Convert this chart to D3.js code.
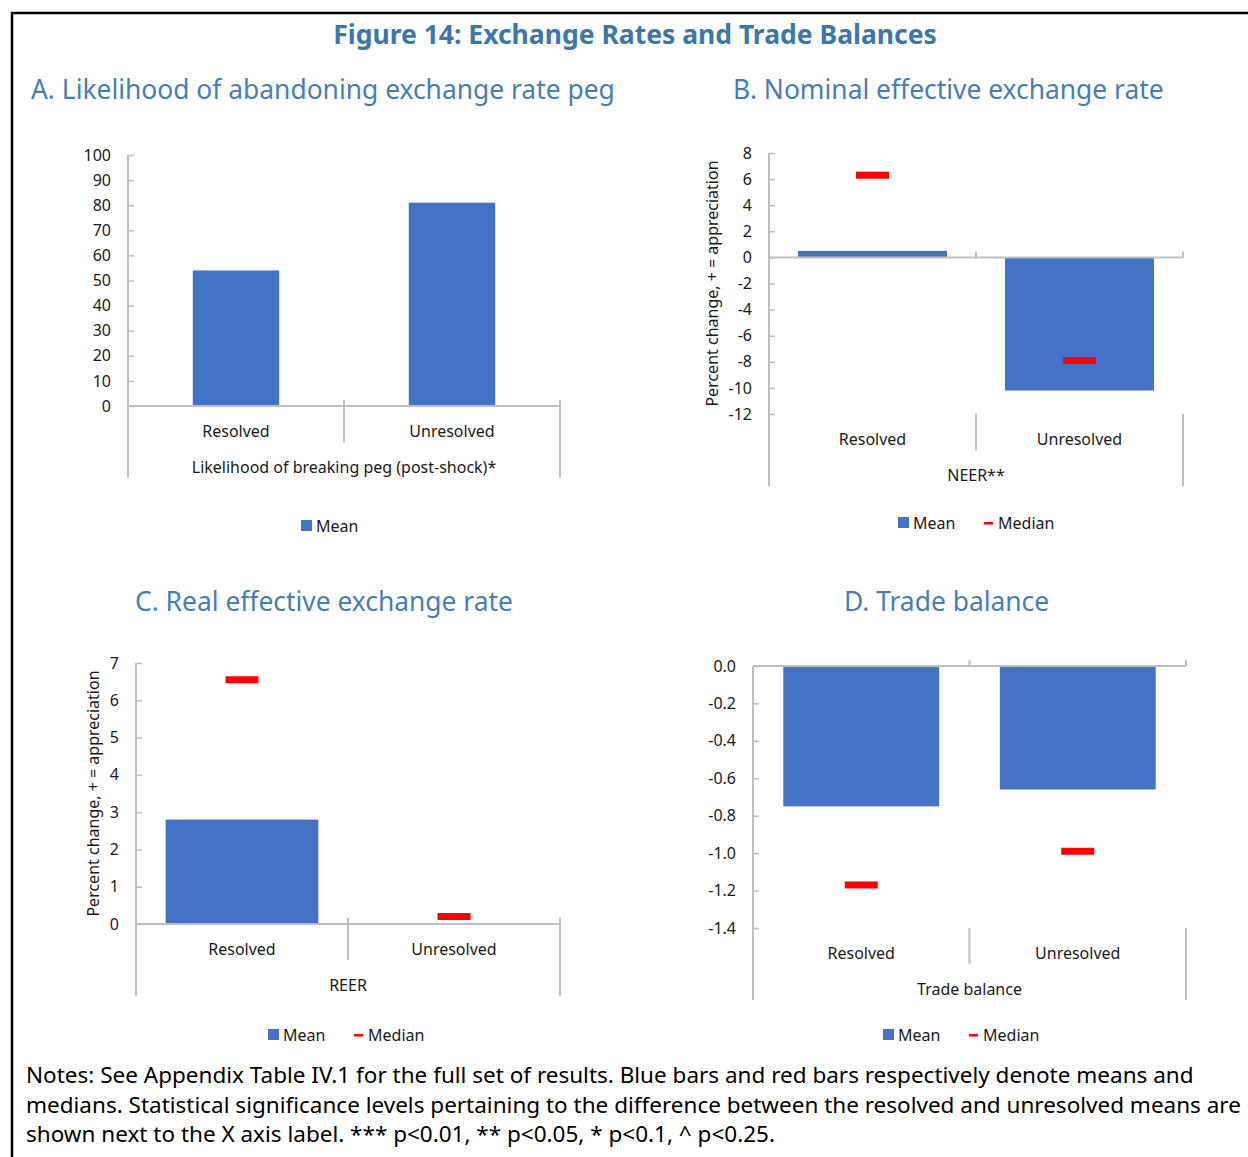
<!DOCTYPE html>
<html>
<head>
<meta charset="utf-8">
<script src="https://cdn.jsdelivr.net/npm/d3@7"></script>
<style>
  body { margin: 0; background: #fff; }
  svg { display: block; font-family: "Noto Sans", "Open Sans", sans-serif; }
</style>
</head>
<body>
<script>
// data
var categories = ["Resolved", "Unresolved"];

var pegMean = [54, 81];
var neerMean = [0.5, -10.2],
    neerMedian = [6.3, -7.9];
var reerMean = [2.8, 0],
    reerMedian = [6.55, 0.2];
var tradeMean = [-0.75, -0.66],
    tradeMedian = [-1.17, -0.99];

var ticksA = [0, 10, 20, 30, 40, 50, 60, 70, 80, 90, 100],
    ticksB = [8, 6, 4, 2, 0, -2, -4, -6, -8, -10, -12],
    ticksC = [0, 1, 2, 3, 4, 5, 6, 7],
    ticksD = [0, -0.2, -0.4, -0.6, -0.8, -1.0, -1.2, -1.4];

var notes = [
  "Notes: See Appendix Table IV.1 for the full set of results. Blue bars and red bars respectively denote means and",
  "medians. Statistical significance levels pertaining to the difference between the resolved and unresolved means are",
  "shown next to the X axis label. *** p<0.01, ** p<0.05, * p<0.1, ^ p<0.25."
];

var blue = "#4472c4",
    red = "#ff0000",
    axisGrey = "#bfbfbf",
    titleBlue = "#4a7eb0";

var svg = d3.select("body").append("svg")
  .attr("width", 1248)
  .attr("height", 1157);

// frame
svg.append("path")
  .attr("d", "M12,1157 V13 H1248")
  .attr("fill", "none")
  .attr("stroke", "#000")
  .attr("stroke-width", 2.5);

svg.append("text")
  .attr("x", 635).attr("y", 44)
  .attr("text-anchor", "middle")
  .attr("font-size", 26.5)
  .attr("font-weight", "bold")
  .attr("fill", "#3e76a8")
  .text("Figure 14: Exchange Rates and Trade Balances");

var panels = [
  {title: "A. Likelihood of abandoning exchange rate peg", tx: 31, ty: 99,
   left: 128, right: 560, top: 155, bottom: 406, domain: [0, 100], ticks: ticksA,
   fmt: String, mean: pegMean, median: null, barFrac: 0.4,
   xLabel: "Likelihood of breaking peg (post-shock)*", catBase: 406, yTitle: null,
   legendX: 301, legendY: 526},
  {title: "B. Nominal effective exchange rate", tx: 733, ty: 99,
   left: 769, right: 1183, top: 153, bottom: 414, domain: [-12, 8], ticks: ticksB,
   fmt: String, mean: neerMean, median: neerMedian, barFrac: 0.72,
   xLabel: "NEER**", catBase: 414, yTitle: 712,
   legendX: 898, legendY: 523},
  {title: "C. Real effective exchange rate", tx: 135, ty: 611,
   left: 136, right: 560, top: 663, bottom: 924, domain: [0, 7], ticks: ticksC,
   fmt: String, mean: reerMean, median: reerMedian, barFrac: 0.72,
   xLabel: "REER", catBase: 924, yTitle: 93,
   legendX: 268, legendY: 1035},
  {title: "D. Trade balance", tx: 844, ty: 611,
   left: 753, right: 1186, top: 666, bottom: 928, domain: [-1.4, 0], ticks: ticksD,
   fmt: function(d) { return d.toFixed(1).replace("-0.0", "0.0"); },
   mean: tradeMean, median: tradeMedian, barFrac: 0.72,
   xLabel: "Trade balance", catBase: 928, yTitle: null,
   legendX: 883, legendY: 1035}
];

panels.forEach(function(p) {
  var g = svg.append("g");

  g.append("text")
    .attr("x", p.tx).attr("y", p.ty)
    .attr("font-size", 26.4)
    .attr("fill", titleBlue)
    .text(p.title);

  var y = d3.scaleLinear().domain(p.domain).range([p.bottom, p.top]);
  var x = d3.scaleBand().domain(categories).range([p.left, p.right]);
  var bw = x.bandwidth();
  var y0 = y(0);

  // bars
  g.selectAll(".bar")
    .data(p.mean)
    .enter().append("rect")
    .attr("x", function(d, i) { return x(categories[i]) + bw * (1 - p.barFrac) / 2; })
    .attr("width", bw * p.barFrac)
    .attr("y", function(d) { return Math.min(y(d), y0); })
    .attr("height", function(d) { return Math.abs(y(d) - y0); })
    .attr("fill", blue);

  // y axis
  var ax = g.append("g")
    .attr("transform", "translate(" + p.left + ",0)")
    .call(d3.axisLeft(y).tickValues(p.ticks).tickFormat(p.fmt)
      .tickSizeInner(-6).tickSizeOuter(0).tickPadding(17));
  ax.select(".domain").remove();
  ax.selectAll("line").attr("stroke", axisGrey).attr("stroke-width", 1.5);
  ax.selectAll("text")
    .attr("font-size", 16)
    .attr("fill", "#1a1a1a")
    .attr("font-family", "Noto Sans, sans-serif");

  var base = p.catBase, row1 = base + 36, row2 = base + 72;
  var mid = x(categories[1]);

  // y axis line running down into the category label block
  g.append("line")
    .attr("x1", p.left).attr("x2", p.left)
    .attr("y1", p.top).attr("y2", row2)
    .attr("stroke", axisGrey).attr("stroke-width", 2);

  // category axis at zero
  g.append("line")
    .attr("x1", p.left).attr("x2", p.right)
    .attr("y1", y0).attr("y2", y0)
    .attr("stroke", axisGrey).attr("stroke-width", 2);
  [mid, p.right].forEach(function(xx) {
    g.append("line")
      .attr("x1", xx).attr("x2", xx)
      .attr("y1", y0 - 6).attr("y2", y0)
      .attr("stroke", axisGrey).attr("stroke-width", 2);
  });

  // multi-level label brackets
  g.append("line")
    .attr("x1", mid).attr("x2", mid)
    .attr("y1", base).attr("y2", row1)
    .attr("stroke", axisGrey).attr("stroke-width", 2);
  g.append("line")
    .attr("x1", p.right).attr("x2", p.right)
    .attr("y1", base).attr("y2", row2)
    .attr("stroke", axisGrey).attr("stroke-width", 2);

  g.selectAll(".cat")
    .data(categories)
    .enter().append("text")
    .attr("x", function(d) { return x(d) + bw / 2; })
    .attr("y", base + 31)
    .attr("text-anchor", "middle")
    .attr("font-size", 16)
    .attr("fill", "#1a1a1a")
    .text(function(d) { return d; });

  g.append("text")
    .attr("x", (p.left + p.right) / 2)
    .attr("y", base + 67)
    .attr("text-anchor", "middle")
    .attr("font-size", 16)
    .attr("fill", "#1a1a1a")
    .text(p.xLabel);

  // medians
  if (p.median) {
    g.selectAll(".med")
      .data(p.median)
      .enter().append("rect")
      .attr("x", function(d, i) { return x(categories[i]) + bw / 2 - 16.5; })
      .attr("width", 33)
      .attr("y", function(d) { return y(d) - 3.5; })
      .attr("height", 7)
      .attr("fill", red);
  }

  if (p.yTitle) {
    g.append("text")
      .attr("transform", "translate(" + p.yTitle + "," + ((p.top + p.bottom) / 2) + ") rotate(-90)")
      .attr("text-anchor", "middle")
      .attr("dy", "0.35em")
      .attr("font-size", 16)
      .attr("fill", "#1a1a1a")
      .text("Percent change, + = appreciation");
  }

  // legend
  var lg = g.append("g").attr("transform", "translate(" + p.legendX + "," + p.legendY + ")");
  lg.append("rect").attr("x", 0).attr("y", -6).attr("width", 11).attr("height", 11).attr("fill", blue);
  lg.append("text").attr("x", 15).attr("y", 6).attr("font-size", 16).attr("fill", "#1a1a1a").text("Mean");
  if (p.median) {
    lg.append("rect").attr("x", 86).attr("y", -1).attr("width", 9).attr("height", 2.5).attr("fill", red);
    lg.append("text").attr("x", 100).attr("y", 6).attr("font-size", 16).attr("fill", "#1a1a1a").text("Median");
  }
});

svg.selectAll(".note")
  .data(notes)
  .enter().append("text")
  .attr("x", 26)
  .attr("y", function(d, i) { return 1083 + i * 29.5; })
  .attr("font-size", 22.5)
  .attr("fill", "#000")
  .text(function(d) { return d; });
</script>
</body>
</html>
